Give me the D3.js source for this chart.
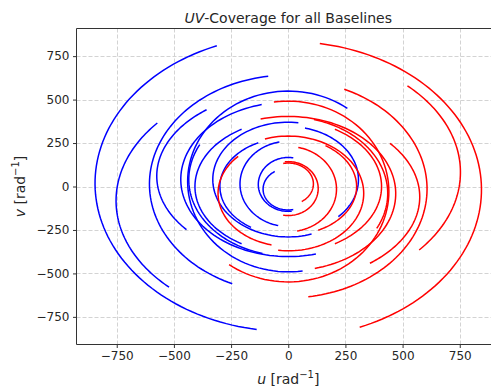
<!DOCTYPE html>
<html>
<head>
<meta charset="utf-8">
<script src="https://cdn.jsdelivr.net/npm/d3@7/dist/d3.min.js"></script>
<style>
body { margin: 0; background: #fff; }
text { font-family: "DejaVu Sans", sans-serif; fill: #262626; }
</style>
</head>
<body>
<div id="chart"></div>
<script>

// one track per baseline: u = a*sin(t), v = v0 + b*cos(t), t in degrees from t0 to t1
// red tracks are the conjugates (-u, -v) of the blue ones
var trackA  = [845, 753, 607, 440, 470, 575, 330, 299, 211, 131, 110, 307, 408, 435];
var trackB  = [852, 689, 627, 520, 444, 487, 330, 280, 245, 155, 120, 305, 380, 440];
var trackV0 = [ 18, -82,  14,  29,  41,  60,  40,   0,  15,  12, -15,  40,   0,  40];
var trackT0 = [-21.7, -49.5, -8.3, 36, -14.3, -38.4, 7.7, -26, -10.6, 9.7, -32.4, 13.8, -30, -62.8];
var trackT1 = [-170.6, -136.2, -156.2, -188.2, -194.9, -129.3, -198, -147, -168, -186.6, -191.5, 134.5, -150, -165];

var xTicks = [-750, -500, -250, 0, 250, 500, 750];
var yTicks = [-750, -500, -250, 0, 250, 500, 750];
var xDomain = [-926, 926];
var yDomain = [-909, 909];

var W = 491, H = 390;
var pLeft = 76.5, pTop = 28.5, pRight = 500, pBottom = 344.5;

var svg = d3.select("#chart").append("svg")
    .attr("width", W)
    .attr("height", H);

var x = d3.scaleLinear().domain(xDomain).range([pLeft, pRight]);
var y = d3.scaleLinear().domain(yDomain).range([pBottom, pTop]);

// grid
svg.append("g").selectAll("line").data(xTicks).enter().append("line")
   .attr("x1", function(d) { return Math.round(x(d)) + 0.5; })
   .attr("x2", function(d) { return Math.round(x(d)) + 0.5; })
   .attr("y1", pTop).attr("y2", pBottom)
   .style("stroke", "#d3d3d3").style("stroke-dasharray", "4,2");
svg.append("g").selectAll("line").data(yTicks).enter().append("line")
   .attr("y1", function(d) { return Math.round(y(d)) + 0.5; })
   .attr("y2", function(d) { return Math.round(y(d)) + 0.5; })
   .attr("x1", pLeft).attr("x2", pRight)
   .style("stroke", "#d3d3d3").style("stroke-dasharray", "4,2");

// tracks
var tracks = trackA.map(function(a, i) {
  return { a: a, b: trackB[i], v0: trackV0[i], t0: trackT0[i], t1: trackT1[i] };
});

function trackPoints(tr, sign) {
  var n = 80, pts = [];
  for (var k = 0; k <= n; k++) {
    var t = (tr.t0 + (tr.t1 - tr.t0) * k / n) * Math.PI / 180;
    pts.push([sign * tr.a * Math.sin(t), sign * (tr.v0 + tr.b * Math.cos(t))]);
  }
  return pts;
}

var line = d3.line()
    .x(function(d) { return x(d[0]); })
    .y(function(d) { return y(d[1]); });

var plot = svg.append("g");

plot.selectAll(".blue").data(tracks).enter().append("path")
   .attr("d", function(d) { return line(trackPoints(d, 1)); })
   .style("fill", "none").style("stroke", "#0000ff").style("stroke-width", 1.5);

plot.selectAll(".red").data(tracks).enter().append("path")
   .attr("d", function(d) { return line(trackPoints(d, -1)); })
   .style("fill", "none").style("stroke", "#ff0000").style("stroke-width", 1.5);

// axes frame
svg.append("line").attr("x1", pLeft).attr("x2", pLeft).attr("y1", pTop).attr("y2", pBottom)
   .style("stroke", "#333").style("stroke-width", 1);
svg.append("line").attr("x1", pLeft).attr("x2", pRight).attr("y1", pTop).attr("y2", pTop)
   .style("stroke", "#333").style("stroke-width", 1);
svg.append("line").attr("x1", pLeft).attr("x2", pRight).attr("y1", pBottom).attr("y2", pBottom)
   .style("stroke", "#333").style("stroke-width", 1);

// ticks
var fmt = function(d) { return d < 0 ? "\u2212" + (-d) : d; };
var xAxis = d3.axisBottom(x).tickValues(xTicks).tickSize(3.5).tickPadding(3.5).tickFormat(fmt);
var yAxis = d3.axisLeft(y).tickValues(yTicks).tickSize(3.5).tickPadding(3.5).tickFormat(fmt);

var gx = svg.append("g").attr("transform", "translate(0," + pBottom + ")").call(xAxis);
var gy = svg.append("g").attr("transform", "translate(" + pLeft + ",0)").call(yAxis);
[gx, gy].forEach(function(g) {
  g.select(".domain").remove();
  g.selectAll("line").style("stroke", "#333");
  g.selectAll("text").style("font-size", "12px").style("fill", "#262626")
   .style("font-family", "DejaVu Sans, sans-serif");
});

// title
var title = svg.append("text")
   .attr("x", (pLeft + pRight) / 2).attr("y", 23)
   .style("text-anchor", "middle").style("font-size", "14px");
title.append("tspan").style("font-style", "italic").text("UV");
title.append("tspan").text("-Coverage for all Baselines");

// axis labels
var xl = svg.append("text")
   .attr("x", (pLeft + pRight) / 2).attr("y", 384)
   .style("text-anchor", "middle").style("font-size", "14px");
xl.append("tspan").style("font-style", "italic").text("u");
xl.append("tspan").text(" [rad");
xl.append("tspan").attr("dy", -6).style("font-size", "10px").text("\u22121");
xl.append("tspan").attr("dy", 6).text("]");

var yl = svg.append("text")
   .attr("transform", "translate(25," + (pTop + pBottom) / 2 + ") rotate(-90)")
   .style("text-anchor", "middle").style("font-size", "14px");
yl.append("tspan").style("font-style", "italic").text("v");
yl.append("tspan").text(" [rad");
yl.append("tspan").attr("dy", -6).style("font-size", "10px").text("\u22121");
yl.append("tspan").attr("dy", 6).text("]");

</script>
</body>
</html>
